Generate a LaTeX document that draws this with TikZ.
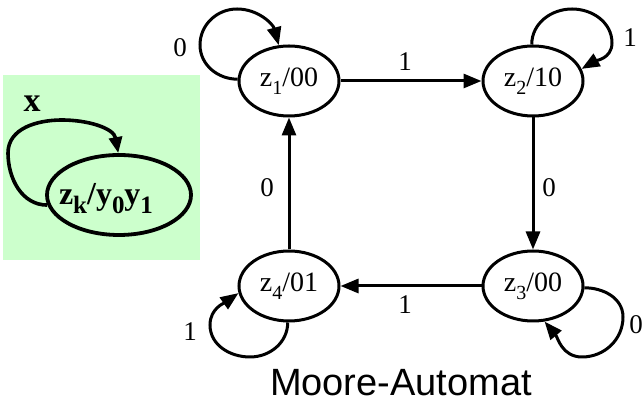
\documentclass[tikz,border=0pt]{standalone}
\usepackage{fontspec}
\setmainfont{Liberation Serif}
\newfontfamily\captionsans{Liberation Sans}
\usetikzlibrary{arrows.meta,shapes.geometric}
\definecolor{legendgreen}{RGB}{204,255,204}
% lowered index digit/letter in a given size
\newcommand{\lowidx}[2][20]{\raisebox{-0.28em}{\fontsize{#1}{#1}\selectfont #2}}
\begin{document}
\begin{tikzpicture}[x=1pt,y=1pt,
  state/.style={ellipse, draw, line width=3pt, minimum width=100pt,
    minimum height=70pt, inner sep=0pt, font=\fontsize{28}{30}\selectfont},
  edgelabel/.style={font=\fontsize{27}{30}\selectfont, inner sep=0pt},
  trans/.style={line width=3pt, -{Triangle[length=18pt,width=14pt]}},
  legendstate/.style={ellipse, draw, line width=3.8pt, minimum width=144pt,
    minimum height=80pt, inner sep=0pt},
  legendtext/.style={inner sep=0pt, font=\bfseries\fontsize{32}{36}\selectfont},
  legendtrans/.style={line width=3.6pt, -{Triangle[length=16pt,width=13pt]}}]
\useasboundingbox (0,0) rectangle (643,403);

% legend box
\fill[legendgreen] (3,143) rectangle (200,328);
\node[legendstate] (zk) at (119,208) {};
\node[legendtext] (zktext) at (106,204) {z\lowidx[25]{k}/y\lowidx[25]{0}y\lowidx[25]{1}};
\node[legendtext, font=\bfseries\fontsize{34}{36}\selectfont] (xlab) at (32,299) {x};
\draw[legendtrans] (zk.188) to[out=180,in=-90] (8,250) to[out=90,in=180] (62,283)
  to[out=0,in=100] (zk.91);

% states
\node[state] (z1) at (289,322) {z\lowidx{1}/00};
\node[state] (z2) at (533,322) {z\lowidx{2}/10};
\node[state] (z3) at (533,117) {z\lowidx{3}/00};
\node[state] (z4) at (289,117) {z\lowidx{4}/01};

% transitions between states
\draw[trans] (z1.east) -- (z2.west);
\draw[trans] (z2.south) -- (z3.north);
\draw[trans] (z3.west) -- (z4.east);
\draw[trans] (z4.north) -- (z1.south);
\node[edgelabel] (l12) at (405,341) {1};
\node[edgelabel] (l23) at (549,215) {0};
\node[edgelabel] (l34) at (405,98) {1};
\node[edgelabel] (l41) at (267,215) {0};

% self loops
\draw[trans] (z1.178) to[out=180,in=-90] (200,358) to[out=90,in=180] (237,394)
  to[out=0,in=105] (z1.106);
\node[edgelabel] (l11) at (180,355) {0};

\draw[trans] (z2.92) to[out=90,in=180] (572,394) to[out=0,in=90] (612,360)
  to[out=-90,in=30] (z2.14);
\node[edgelabel] (l22) at (630,365) {1};

\draw[trans] (z3.358) to[out=0,in=90] (623,86) to[out=-90,in=0] (582,46)
  to[out=180,in=-50] (z3.288);
\node[edgelabel] (l33) at (636,78) {0};

\draw[trans] (z4.268) to[out=-90,in=0] (250,46) to[out=180,in=-90] (210,78)
  to[out=90,in=215] (z4.188);
\node[edgelabel] (l44) at (190,71) {1};

% caption
\node[font=\captionsans\fontsize{38}{40}\selectfont, anchor=base, inner sep=0pt]
  (cap) at (401,7) {Moore-Automat};
\end{tikzpicture}
\end{document}
